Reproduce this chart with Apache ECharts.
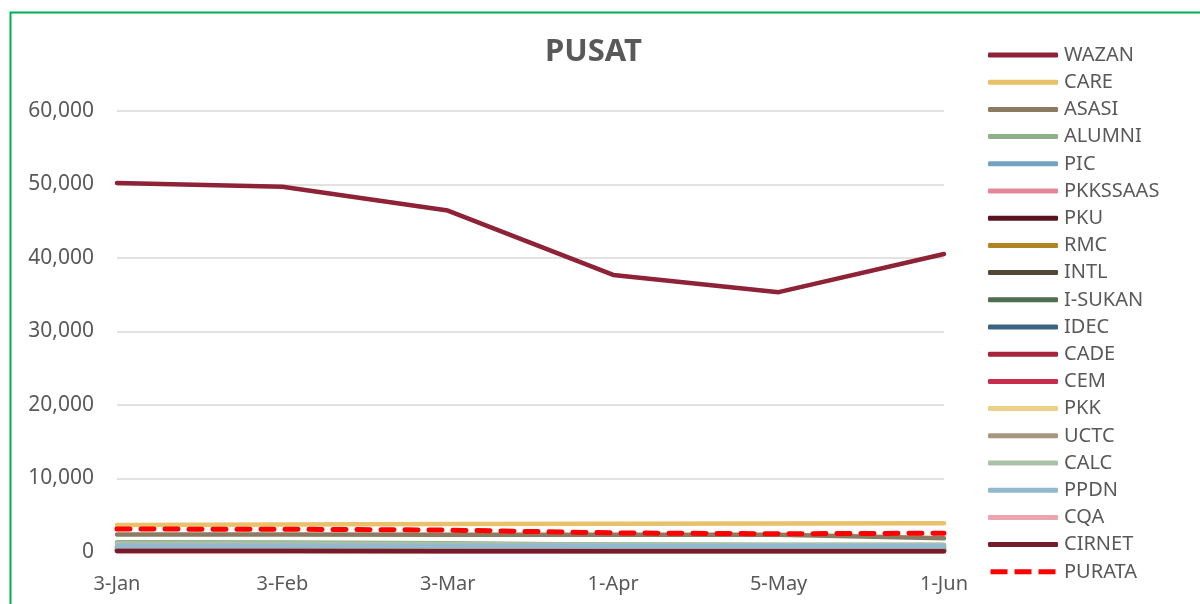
<!DOCTYPE html>
<html>
<head>
<meta charset="utf-8">
<script src="https://cdn.jsdelivr.net/npm/echarts@6/dist/echarts.min.js"></script>
<style>
html,body{margin:0;padding:0;background:#fff;}
#c{width:1200px;height:604px;}
</style>
</head>
<body>
<div id="c"></div>
<script>
const categories = ['3-Jan', '3-Feb', '3-Mar', '1-Apr', '5-May', '1-Jun'];
const yTicks = [0, 10000, 20000, 30000, 40000, 50000, 60000];

const WAZAN    = [50200, 49700, 46450, 37700, 35350, 40550];
const CARE     = [3680, 3740, 3800, 3850, 3880, 3920];
const ASASI    = [2380, 2370, 2360, 2340, 2330, 1870];
const ALUMNI   = [1320, 1300, 1200, 1000, 950, 940];
const PIC      = [1100, 1080, 1050, 980, 960, 950];
const PKKSSAAS = [350, 340, 330, 320, 310, 300];
const PKU      = [200, 200, 190, 190, 180, 180];
const RMC      = [720, 710, 700, 700, 690, 690];
const INTL     = [430, 420, 420, 410, 400, 400];
const ISUKAN   = [300, 300, 290, 290, 280, 280];
const IDEC     = [650, 640, 640, 630, 630, 620];
const CADE     = [220, 220, 210, 210, 200, 200];
const CEM      = [160, 160, 150, 150, 150, 140];
const PKK      = [110, 110, 110, 100, 100, 100];
const UCTC     = [520, 510, 510, 500, 500, 490];
const CALC     = [1150, 1140, 1100, 1000, 960, 950];
const PPDN     = [820, 810, 800, 790, 780, 780];
const CQA      = [90, 90, 90, 80, 80, 80];
const CIRNET   = [120, 120, 110, 110, 100, 100];
const PURATA   = [3120, 3100, 2980, 2600, 2480, 2560];

const seriesNames = ['WAZAN','CARE','ASASI','ALUMNI','PIC','PKKSSAAS','PKU','RMC','INTL','I-SUKAN','IDEC','CADE','CEM','PKK','UCTC','CALC','PPDN','CQA','CIRNET','PURATA'];
const seriesData = [WAZAN,CARE,ASASI,ALUMNI,PIC,PKKSSAAS,PKU,RMC,INTL,ISUKAN,IDEC,CADE,CEM,PKK,UCTC,CALC,PPDN,CQA,CIRNET,PURATA];
const colors = ['#8E2236','#E8C16A','#8C7B60','#8FAE8A','#73A3C0','#E48898','#5A1420','#B08420','#534838','#4D6E4F','#3C6481','#A8233C','#C92D4C','#EDCF8A','#A6987D','#A9C1A6','#94B8CF','#EBA4B0','#741B2C','#FF0000'];

const FONT = 'Noto Sans';
const series = seriesNames.map((n, i) => {
  const isAvg = n === 'PURATA';
  return {
    name: n,
    type: 'line',
    data: seriesData[i],
    symbol: 'none',
    showSymbol: false,
    color: colors[i],
    lineStyle: {
      color: colors[i],
      width: isAvg ? 5 : 4.5,
      type: isAvg ? [13, 11] : 'solid',
      cap: 'round',
      join: 'round'
    },
    emphasis: { disabled: true },
    z: 2
  };
});

const dashIcon = 'path://M0,0h17v5h-17z M24,0h17v5h-17z M48,0h17v5h-17z';
const legendData = seriesNames.map((n, i) => ({
  name: n,
  icon: n === 'PURATA' ? dashIcon : 'roundRect',
  itemStyle: { color: colors[i] }
}));

const chart = echarts.init(document.getElementById('c'), null, { renderer: 'canvas' });
chart.setOption({
  animation: false,
  backgroundColor: '#ffffff',
  title: {
    text: 'PUSAT',
    left: 545,
    top: 37,
    padding: 0,
    textStyle: { fontFamily: FONT, fontSize: 31, fontWeight: 'bold', color: '#595959' }
  },
  grid: { left: 117, right: 256, top: 111, bottom: 52, containLabel: false },
  legend: {
    orient: 'vertical',
    left: 988,
    top: 45,
    padding: 0,
    itemWidth: 70,
    itemHeight: 5,
    itemGap: 7.2,
    data: legendData,
    selectedMode: false,
    textStyle: { fontFamily: FONT, fontSize: 20, lineHeight: 20, color: '#595959', padding: [0, 0, 0, 1] }
  },
  xAxis: {
    type: 'category',
    data: categories,
    boundaryGap: false,
    axisLine: { show: true, lineStyle: { color: '#D9D9D9', width: 1 } },
    axisTick: { show: false },
    axisLabel: { fontFamily: FONT, fontSize: 20, color: '#595959', margin: 22 },
    splitLine: { show: false }
  },
  yAxis: {
    type: 'value',
    min: yTicks[0],
    max: yTicks[yTicks.length - 1],
    interval: yTicks[1] - yTicks[0],
    axisLine: { show: false },
    axisTick: { show: false },
    axisLabel: {
      fontFamily: FONT, fontSize: 21, color: '#595959', margin: 23,
      formatter: v => v.toLocaleString('en-US')
    },
    splitLine: { show: true, lineStyle: { color: '#D9D9D9', width: 1.5 } }
  },
  graphic: [{
    type: 'rect',
    shape: { x: 10.5, y: 12.5, width: 1300, height: 700 },
    style: { fill: 'none', stroke: '#00B050', lineWidth: 2 },
    silent: true,
    z: 100
  }],
  series: series
});
</script>
</body>
</html>
